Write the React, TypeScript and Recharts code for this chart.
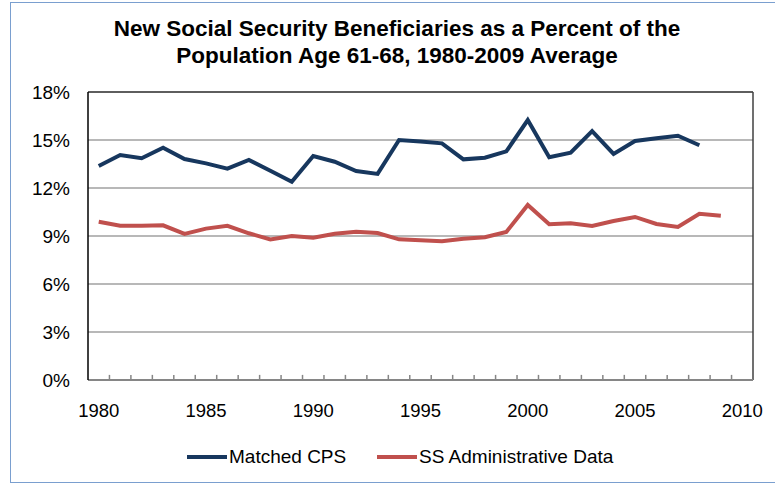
import React from 'react'
import {
  LineChart, Line, XAxis, YAxis, CartesianGrid, Legend, ReferenceLine,
} from 'recharts'

// values (percent of population age 61-68)
const years = [
  1980, 1981, 1982, 1983, 1984, 1985, 1986, 1987, 1988, 1989,
  1990, 1991, 1992, 1993, 1994, 1995, 1996, 1997, 1998, 1999,
  2000, 2001, 2002, 2003, 2004, 2005, 2006, 2007, 2008, 2009,
]
const matchedCps: (number | null)[] = [
  13.38, 14.06, 13.86, 14.52, 13.81, 13.54, 13.21, 13.75, 13.08, 12.39,
  14.0, 13.64, 13.06, 12.88, 15.0, 14.9, 14.79, 13.79, 13.89, 14.29,
  16.25, 13.92, 14.21, 15.56, 14.13, 14.94, 15.11, 15.27, 14.67, null,
]
const ssAdmin: number[] = [
  9.89, 9.64, 9.64, 9.67, 9.13, 9.46, 9.64, 9.17, 8.79, 9.0,
  8.89, 9.14, 9.27, 9.19, 8.79, 8.73, 8.67, 8.83, 8.92, 9.25,
  10.94, 9.73, 9.79, 9.63, 9.94, 10.19, 9.75, 9.56, 10.39, 10.27,
]
const yearTicks = [1980, 1985, 1990, 1995, 2000, 2005, 2010]
const pctTicks = [0, 3, 6, 9, 12, 15, 18]

const BLUE = '#17375e'
const RED = '#c0504d'
const FONT = '"Liberation Sans", Arial, sans-serif'

const data = years.map((year, i) => ({
  year,
  cps: matchedCps[i],
  ssa: ssAdmin[i],
}))

// small inside tick marks sit between the years, like an Excel category axis
const boundaries = years.map(y => y + 0.5)
const TICK_LEN = 0.32 // in % units (~5px)

const LegendContent = () => (
  <div style={{ position: 'relative', height: 50, fontFamily: FONT, fontSize: 19, color: '#000' }}>
    {[
      { name: 'Matched CPS', color: BLUE, left: 187 },
      { name: 'SS Administrative Data', color: RED, left: 377 },
    ].map(item => (
      <div
        key={item.name}
        style={{ position: 'absolute', left: item.left, top: 11, display: 'flex', alignItems: 'center', height: 22, whiteSpace: 'nowrap' }}
      >
        <div style={{ width: 40, height: 4, background: item.color, marginRight: 2 }} />
        <span>{item.name}</span>
      </div>
    ))}
  </div>
)

export default function App() {
  return (
    <div style={{ position: 'absolute', left: 0, top: 0, width: 775, height: 485, overflow: 'hidden', background: '#fff' }}>
      {/* outer chart border, cut off on the right */}
      <div style={{
        position: 'absolute', left: 10, top: 2, width: 800, height: 481,
        border: '1.5px solid #7a9fcf', boxSizing: 'border-box',
      }} />

      {/* Title */}
      <div style={{
        position: 'absolute', left: 0, top: 15, width: 794, textAlign: 'center',
        fontFamily: FONT, fontSize: 22.5, fontWeight: 'bold', lineHeight: '27px', color: '#000',
        whiteSpace: 'nowrap',
      }}>
        New Social Security Beneficiaries as a Percent of the<br />
        Population Age 61-68, 1980-2009 Average
      </div>

      <div style={{ position: 'absolute', left: 0, top: 0 }}>
        <LineChart
          width={775}
          height={485}
          data={data}
          margin={{ top: 92, right: 22, bottom: 0, left: 0 }}
          style={{ fontFamily: FONT }}
        >
          <CartesianGrid
            horizontal
            vertical={false}
            stroke="#a0a0a0"
            strokeWidth={1.5}
            xAxisId="year"
            horizontalValues={pctTicks}
          />
          <XAxis
            xAxisId="year"
            dataKey="year"
            type="number"
            domain={[1979.5, 2010.5]}
            ticks={yearTicks}
            interval={0}
            height={55}
            tickLine={false}
            tickSize={0}
            tickMargin={24}
            axisLine={{ stroke: '#868686', strokeWidth: 2 }}
            tick={{ fontSize: 18.5, fill: '#000', fontFamily: FONT }}
          />
          <YAxis
            type="number"
            domain={[0, 18]}
            ticks={pctTicks}
            width={88}
            tickLine={false}
            tickSize={0}
            tickMargin={18}
            tickFormatter={v => `${v}%`}
            axisLine={{ stroke: '#000', strokeWidth: 1.5 }}
            tick={{ fontSize: 19, fill: '#000', fontFamily: FONT }}
          />
          {boundaries.map(b => (
            <ReferenceLine
              key={b}
              xAxisId="year"
              segment={[{ x: b, y: 0 }, { x: b, y: TICK_LEN }]}
              stroke="#868686"
              strokeWidth={1.5}
            />
          ))}
          <ReferenceLine y={18} xAxisId="year" stroke="#404040" strokeWidth={1.5} />
          <ReferenceLine x={2010.5} xAxisId="year" stroke="#404040" strokeWidth={1.5} />

          <Legend verticalAlign="bottom" height={50} wrapperStyle={{ left: 0, width: 775 }} content={<LegendContent />} />

          <Line
            xAxisId="year"
            dataKey="cps"
            name="Matched CPS"
            stroke={BLUE}
            strokeWidth={4}
            dot={false}
            activeDot={false}
            isAnimationActive={false}
          />
          <Line
            xAxisId="year"
            dataKey="ssa"
            name="SS Administrative Data"
            stroke={RED}
            strokeWidth={4}
            dot={false}
            activeDot={false}
            isAnimationActive={false}
          />
        </LineChart>
      </div>
    </div>
  )
}
